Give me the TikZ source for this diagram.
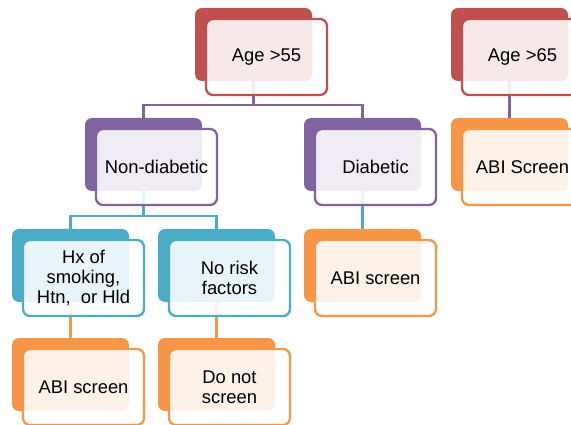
\documentclass[tikz,border=0pt]{standalone}
\usepackage{fontspec}
\setmainfont{Liberation Sans}
\definecolor{cred}{HTML}{C0504D}
\definecolor{cpur}{HTML}{8064A2}
\definecolor{cteal}{HTML}{4BACC6}
\definecolor{corg}{HTML}{F79646}
\pgfdeclarelayer{paper}
\pgfdeclarelayer{bg}
\pgfsetlayers{paper,bg,main}
\tikzset{
  backbox/.style={fill=#1, draw=none, rounded corners=7pt, minimum width=117pt, minimum height=73pt, inner sep=0pt, outer sep=0pt},
  frontbox/.style={draw=#1, fill=white, fill opacity=0.88, text opacity=1, line width=2.3pt, rounded corners=7pt, minimum width=121pt, minimum height=76pt, inner sep=0pt, outer sep=0pt, align=center, font=\fontsize{18.4}{20}\selectfont},
  conn/.style={draw=#1, line width=2.6pt}
}
\newcommand{\myunit}[5]{%
  \node[backbox=#4] (#1b) at (#2+58.5,#3+36.5) {};
  \node[frontbox=#4] (#1f) at (#2+71.5,#3+49) {#5};
}
\begin{document}
\begin{tikzpicture}[x=1pt,y=-1pt]
\useasboundingbox (0,0) rectangle (571,425);
\begin{pgfonlayer}{paper}
\fill[white] (0,0) rectangle (571,425);
\end{pgfonlayer}
\begin{scope}
\clip (0,0) rectangle (571,425);
\myunit{a}{195}{8}{cred}{Age >55}
\myunit{g}{451}{8}{cred}{Age >65}
\myunit{n}{85}{118}{cpur}{Non-diabetic}
\myunit{d}{304}{118}{cpur}{Diabetic}
\myunit{r}{451}{118}{corg}{ABI Screen}
\myunit{h}{12}{229}{cteal}{Hx of\\smoking,\\Htn,\ \ or Hld}
\myunit{k}{158}{229}{cteal}{No risk\\factors}
\myunit{m}{304}{229}{corg}{ABI screen}
\myunit{s}{12}{338}{corg}{ABI screen}
\myunit{t}{158}{338}{corg}{Do not\\screen}
\coordinate (j1) at (253.5,105);
\coordinate (j2) at (143.5,216);
\begin{pgfonlayer}{bg}
\draw[conn=cpur] (ab.center) -- (j1) -| (nb.center);
\draw[conn=cpur] (j1) -| (db.center);
\draw[conn=cpur] (gb.center) -- (rb.center);
\draw[conn=cteal] (nb.center) -- (j2) -| (hb.center);
\draw[conn=cteal] (j2) -| (kb.center);
\draw[conn=cteal] (db.center) -- (mb.center);
\draw[conn=corg] (hb.center) -- (sb.center);
\draw[conn=corg] (kb.center) -- (tb.center);
\end{pgfonlayer}
\end{scope}
\end{tikzpicture}
\end{document}
